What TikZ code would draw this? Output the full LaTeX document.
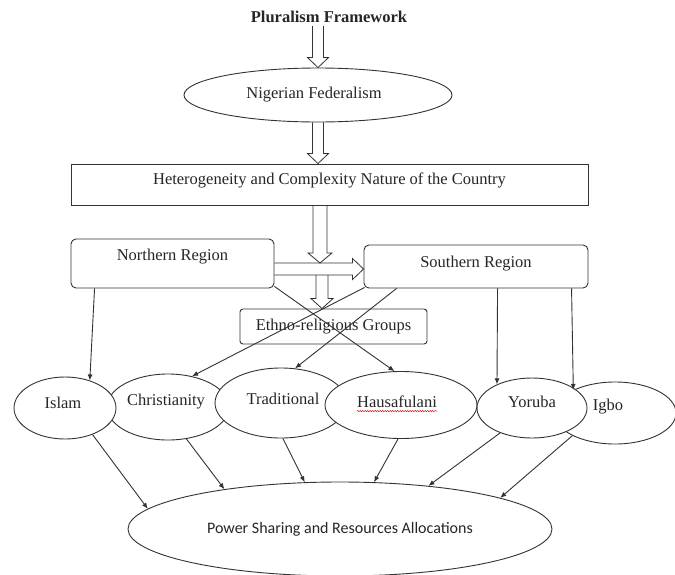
\documentclass[tikz,border=0pt]{standalone}
\usepackage{fontspec}
\setmainfont{Liberation Serif}
\newfontfamily\calibrifont{Carlito}
\usetikzlibrary{shapes.geometric,calc,arrows.meta,decorations.pathmorphing}
\tikzset{
  ln/.style={draw=black!80, line width=0.9pt},
  txt/.style={text=black!85, font=\fontsize{16.5}{19}\selectfont},
  oval/.style={ellipse, ln, fill=white, inner sep=0pt},
  box/.style={rectangle, ln, fill=white, inner sep=0pt},
  rbox/.style={box, rounded corners=5pt},
  arr/.style={ln, -{Latex[length=6pt,width=5pt]}},
  hol/.style={ln, line width=0.8pt, line join=miter},
  lbl/.style={txt, inner sep=0pt},
}
% hollow (outlined) arrows: [shaft half width]{start}{tip}
\newcommand{\hollowv}[3][5.5]{\draw[hol] let \p1=(#2), \p2=(#3), \n1={#1pt}, \n2={#1pt+5pt} in
  (\x2-\n1,\y1) -- (\x2-\n1,\y2+10pt) -- (\x2-\n2,\y2+10pt) -- (\x2,\y2) -- (\x2+\n2,\y2+10pt) -- (\x2+\n1,\y2+10pt) -- (\x2+\n1,\y1);}
\newcommand{\hollowh}[2]{\draw[hol] let \p1=(#1), \p2=(#2) in
  (\x1,\y2+6pt) -- (\x2-11pt,\y2+6pt) -- (\x2-11pt,\y2+10.5pt) -- (\x2,\y2) -- (\x2-11pt,\y2-10.5pt) -- (\x2-11pt,\y2-6pt) -- (\x1,\y2-6pt);}
\begin{document}
\begin{tikzpicture}[x=1pt,y=-1pt]
\fill[white] (0,0) rectangle (675,574);
\useasboundingbox (0,0) rectangle (675,574);

\node[txt, font=\bfseries\fontsize{16.5}{19}\selectfont, inner sep=3pt] (title) at (329,17) {Pluralism Framework};
\node[oval, minimum width=268, minimum height=54,
  label={[lbl,xshift=-4pt]center:Nigerian Federalism}] (nf) at (318,95) {};
\node[box, minimum width=517, minimum height=41,
  label={[lbl,yshift=4pt]center:Heterogeneity and Complexity Nature of the Country}] (het) at (329.5,184.5) {};
\node[rbox, minimum width=203, minimum height=49,
  label={[lbl,yshift=7pt]center:Northern Region}] (north) at (172.5,263.5) {};
\node[rbox, minimum width=224, minimum height=43,
  label={[lbl,yshift=3pt]center:Southern Region}] (south) at (476,266.5) {};
\node[rbox, rounded corners=3pt, minimum width=187, minimum height=35,
  label={[lbl]center:Ethno-religious Groups}] (ethno) at (333.5,326.5) {};

\coordinate (t3) at (320,263);
\coordinate (hc) at (0,269);
\coordinate (s5) at (322,275);

\hollowv{title.south}{nf.north}
\hollowv{nf.south}{nf.south |- het.north}
\hollowv[7]{het.south}{t3}
\hollowh{north.east |- hc}{south.west |- hc}
\hollowv[6]{s5}{s5 |- ethno.north}

% row of ellipses
\node[oval, minimum width=122, minimum height=66,
  label={[lbl,xshift=-2pt,yshift=5pt]center:Christianity}] (christ) at (168,407) {};
\node[oval, minimum width=102, minimum height=62,
  label={[lbl,xshift=-2pt,yshift=5pt]center:Islam}] (islam) at (65,408) {};
\node[oval, minimum width=132, minimum height=70,
  label={[lbl,xshift=2pt,yshift=4pt]center:Traditional}] (trad) at (281,403) {};
\node[oval, minimum width=152, minimum height=67,
  label={[lbl,name=hausatxt,xshift=-4pt,yshift=3pt]center:Hausafulani}] (hausa) at (401,405) {};
\node[oval, minimum width=122, minimum height=62,
  label={[lbl,xshift=-7pt,yshift=6pt]center:Igbo}] (igbo) at (615,413) {};
\node[oval, minimum width=110, minimum height=60,
  label={[lbl,yshift=6pt]center:Yoruba}] (yoruba) at (532,408) {};

\draw[red!80!black, line width=0.4pt, decorate, decoration={snake, amplitude=0.6pt, segment length=2.5pt}]
  ($(hausatxt.south west)+(0,3)$) -- ($(hausatxt.south east)+(0,3)$);

\node[oval, minimum width=424, minimum height=94,
  label={[lbl,font=\calibrifont\fontsize{16}{19}\selectfont]center:Power Sharing and Resources Allocations}] (power) at (340,529) {};

% arrows from regions to groups
\draw[arr] ($(north.south west)+(24,0)$) -- (islam.48);
\draw[arr] ($(north.south east)+(0,-2)$) -- (hausa.101);
\draw[arr] ($(south.south west)+(1,-1)$) -- (christ.52);
\draw[arr] ($(south.south west)+(33,0)$) -- (trad.68);
\draw[arr] ($(south.south west)+(134,0)$) -- (yoruba.146);
\draw[arr] ($(south.south west)+(208,0)$) -- (igbo.151);

% arrows from groups to power sharing
\draw[arr] (islam.-44) -- (power.174);
\draw[arr] (christ.-60) -- (power.161);
\draw[arr] (trad.-87) -- (power.127);
\draw[arr] (hausa.-95) -- (power.54);
\draw[arr] (yoruba.-142) -- (power.26);
\draw[arr] (igbo.-152) -- (power.11);
\end{tikzpicture}
\end{document}
